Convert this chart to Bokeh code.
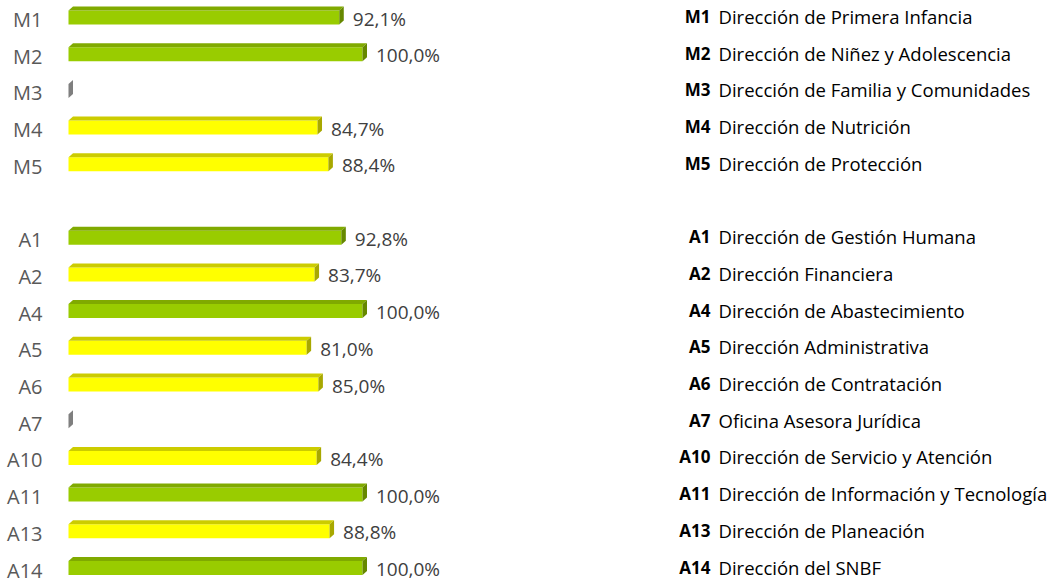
from bokeh.plotting import figure
from bokeh.models import ColumnDataSource, Range1d
from bokeh.embed import file_html
from bokeh.resources import INLINE
from bokeh.core.properties import value

# ---------------- data ----------------
codes = ["M1", "M2", "M3", "M4", "M5",
         "A1", "A2", "A4", "A5", "A6", "A7", "A10", "A11", "A13", "A14"]
names = ["Dirección de Primera Infancia",
         "Dirección de Niñez y Adolescencia",
         "Dirección de Familia y Comunidades",
         "Dirección de Nutrición",
         "Dirección de Protección",
         "Dirección de Gestión Humana",
         "Dirección Financiera",
         "Dirección de Abastecimiento",
         "Dirección Administrativa",
         "Dirección de Contratación",
         "Oficina Asesora Jurídica",
         "Dirección de Servicio y Atención",
         "Dirección de Información y Tecnología",
         "Dirección de Planeación",
         "Dirección del SNBF"]
values = [92.1, 100.0, 0.0, 84.7, 88.4,
          92.8, 83.7, 100.0, 81.0, 85.0, 0.0, 84.4, 100.0, 88.8, 100.0]
threshold = 90.0

# ---------------- layout ----------------
W, H = 1051, 582
PX_PER_PCT = 2.94
PX_PER_SLOT = 36.7
X0_PX = 68
Y0_PX = 17

slots = [i + (1 if c.startswith("A") else 0) for i, c in enumerate(codes)]

bar_h = 14 / PX_PER_SLOT
dx = 4.5 / PX_PER_PCT
dy = 4.0 / PX_PER_SLOT

GREEN = ("#99CC00", "#80AA00", "#668800")
YELLOW = ("#FFFF00", "#CCCC00", "#A8A800")
GRAY = ("#8C8C8C", "#9A9A9A", "#7F7F7F")

front_l, front_r, front_t, front_b, front_c = [], [], [], [], []
top_xs, top_ys, top_c = [], [], []
side_xs, side_ys, side_c = [], [], []
lab_x, lab_y, lab_t = [], [], []

for v, s in zip(values, slots):
    if v <= 0:
        pal = GRAY
    elif v >= threshold:
        pal = GREEN
    else:
        pal = YELLOW
    t = s - bar_h / 2
    b = s + bar_h / 2
    if v > 0:
        front_l.append(0); front_r.append(v); front_t.append(t); front_b.append(b); front_c.append(pal[0])
        top_xs.append([0, dx, v + dx, v]); top_ys.append([t, t - dy, t - dy, t]); top_c.append(pal[1])
        lab_x.append(v + dx); lab_y.append(s); lab_t.append(f"{v:.1f}%".replace(".", ","))
    side_xs.append([v, v + dx, v + dx, v]); side_ys.append([t, t - dy, b - dy, b]); side_c.append(pal[2])

p = figure(width=W, height=H, output_backend="svg", toolbar_location=None,
           x_axis_location=None, y_axis_location=None,
           x_range=Range1d(-X0_PX / PX_PER_PCT, (W - X0_PX) / PX_PER_PCT),
           y_range=Range1d((H - Y0_PX) / PX_PER_SLOT, -Y0_PX / PX_PER_SLOT),
           min_border=0, outline_line_color=None)
p.grid.visible = False
p.background_fill_color = "white"
p.border_fill_color = "white"

p.quad(left="l", right="r", top="t", bottom="b", fill_color="c", line_color=None,
       source=ColumnDataSource(dict(l=front_l, r=front_r, t=front_t, b=front_b, c=front_c)))
p.patches(xs="xs", ys="ys", fill_color="c", line_color=None,
          source=ColumnDataSource(dict(xs=top_xs, ys=top_ys, c=top_c)))
p.patches(xs="xs", ys="ys", fill_color="c", line_color=None,
          source=ColumnDataSource(dict(xs=side_xs, ys=side_ys, c=side_c)))

# value labels
p.text(x="x", y="y", text="t", source=ColumnDataSource(dict(x=lab_x, y=lab_y, t=lab_t)),
       x_offset=9, y_offset=1, text_align="left", text_baseline="middle",
       text_font=value("Open Sans"), text_font_size="19px", text_color="#404040")

# category labels
p.text(x=[0] * len(codes), y=slots, text=codes,
       x_offset=-26, y_offset=2, text_align="right", text_baseline="middle",
       text_font=value("Open Sans"), text_font_size="20px", text_color="#595959")

# legend codes and names
p.text(x=[0] * len(codes), y=slots, text=codes,
       x_offset=642, y_offset=-1, text_align="right", text_baseline="middle",
       text_font=value("Open Sans"), text_font_size="17px", text_font_style="bold",
       text_color="#000000")
p.text(x=[0] * len(codes), y=slots, text=names,
       x_offset=650, y_offset=-1, text_align="left", text_baseline="middle",
       text_font=value("Open Sans"), text_font_size="18.5px", text_color="#000000")

open("out.html", "w").write(file_html(p, INLINE))
